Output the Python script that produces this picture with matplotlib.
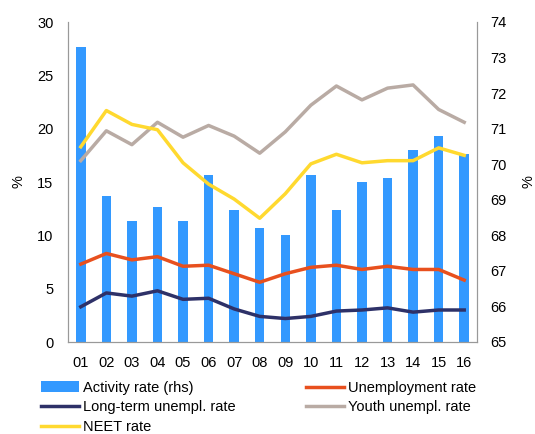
import matplotlib.pyplot as plt
import numpy as np

plt.rcParams["font.family"] = ["Liberation Sans", "DejaVu Sans"]
plt.rcParams["font.size"] = 10.5

years = ["01", "02", "03", "04", "05", "06", "07", "08",
         "09", "10", "11", "12", "13", "14", "15", "16"]

# right axis (bars)
activity = [73.3, 69.1, 68.4, 68.8, 68.4, 69.7, 68.7, 68.2,
            68.0, 69.7, 68.7, 69.5, 69.6, 70.4, 70.8, 70.3]

# left axis (lines)
unemployment = [7.3, 8.3, 7.7, 8.0, 7.1, 7.2, 6.4, 5.6,
                6.4, 7.0, 7.2, 6.8, 7.1, 6.8, 6.8, 5.8]
long_term = [3.3, 4.6, 4.3, 4.8, 4.0, 4.1, 3.1, 2.4,
             2.2, 2.4, 2.9, 3.0, 3.2, 2.8, 3.0, 3.0]
youth = [17.0, 19.8, 18.5, 20.6, 19.2, 20.3, 19.3, 17.7,
         19.7, 22.2, 24.0, 22.7, 23.8, 24.1, 21.8, 20.6]
neet = [18.3, 21.7, 20.4, 19.9, 16.8, 14.8, 13.4, 11.6,
        13.9, 16.7, 17.6, 16.8, 17.0, 17.0, 18.2, 17.5]

c_bar = "#3399FF"
c_unemp = "#E8501E"
c_long = "#2E3168"
c_youth = "#B9ABA4"
c_neet = "#FFD92F"
c_axis = "#999999"

fig = plt.figure(figsize=(5.35, 4.34), dpi=100)
ax = fig.add_axes([68 / 535, 92 / 434, 409 / 535, 320 / 434])
ax2 = ax.twinx()

x = np.arange(len(years))

bars = ax2.bar(x, activity, width=0.37, color=c_bar, bottom=0,
               label="Activity rate (rhs)")
ax2.set_ylim(65, 74)
ax2.set_yticks(range(65, 75))

ln_u, = ax.plot(x, unemployment, color=c_unemp, lw=2.5, label="Unemployment rate")
ln_l, = ax.plot(x, long_term, color=c_long, lw=2.5, label="Long-term unempl. rate")
ln_y, = ax.plot(x, youth, color=c_youth, lw=2.5, label="Youth unempl. rate")
ln_n, = ax.plot(x, neet, color=c_neet, lw=2.5, label="NEET rate")

# lines in front of bars
ax.set_zorder(ax2.get_zorder() + 1)
ax.patch.set_visible(False)

ax.set_ylim(0, 30)
ax.set_yticks(range(0, 31, 5))
ax.set_xlim(-0.5, 15.5)
ax.set_xticks(x)
ax.set_xticklabels(years)

for a in (ax, ax2):
    a.spines["top"].set_visible(False)
    for s in ("left", "right", "bottom"):
        a.spines[s].set_color(c_axis)
    a.tick_params(length=0)
ax.tick_params(axis="y", pad=10.5)
ax.tick_params(axis="x", pad=10)
ax2.tick_params(axis="y", pad=9.5)

ax.set_ylabel("%", labelpad=8)
ax2.set_ylabel("%", rotation=90, labelpad=11)

fig.legend([bars, ln_l, ln_n, ln_u, ln_y],
           ["Activity rate (rhs)", "Long-term unempl. rate", "NEET rate",
            "Unemployment rate", "Youth unempl. rate"],
           ncol=2, loc="upper left", bbox_to_anchor=(0.077, 0.123),
           frameon=False, handlelength=2.6, handletextpad=0.3,
           columnspacing=4.8, labelspacing=0.4, borderaxespad=0, borderpad=0)

fig.savefig("out.png", dpi=100)
